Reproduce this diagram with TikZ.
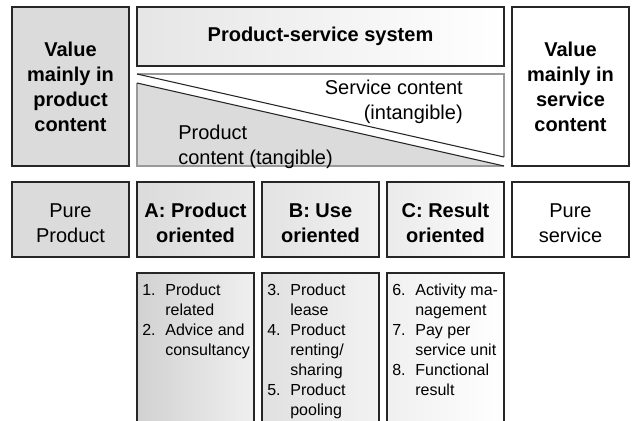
\documentclass[tikz,border=0pt]{standalone}
\usepackage{fontspec}
\setmainfont{Liberation Sans}
\usepackage{tikz}
\usetikzlibrary{positioning}
\colorlet{colorFrame}{black!85}
\colorlet{colorThin}{black!40}
\colorlet{colorProduct}{black!14}
\newcommand{\rowstrut}{\rule{0pt}{15.35pt}}
\tikzset{
  block/.style={draw=colorFrame, line width=0.9pt, inner sep=0pt, outer sep=0pt, minimum width=87.75pt, align=center},
  head/.style={font=\fontsize{15}{18.75}\selectfont\bfseries},
  plain/.style={font=\fontsize{15}{18.75}\selectfont},
  kind/.style={minimum height=56.25pt},
  list/.style={font=\fontsize{12}{15}\selectfont, inner sep=0pt, anchor=north west}
}

\begin{document}
\begin{tikzpicture}[x=0.75pt, y=-0.75pt, node distance=6pt]
\clip (0,0) rectangle (633,421);
% top row
\node[block, head, fill=colorProduct, minimum height=119.25pt] (v0) at (70.5,86.5) {Value\\mainly in\\product\\content};
\node[block, head, minimum width=275.25pt, minimum height=44.25pt, left color=black!10, right color=white] (pss) at (320.5,36.5) {Product-service system};
\node[block, head, fill=white, minimum height=119.25pt] (v1) at (570.5,86.5) {Value\\mainly in\\service\\content};
% split between product and service content
\coordinate (t0) at (137,74);
\coordinate (t1) at (504,74);
\coordinate (t2) at (504,157);
\coordinate (t3) at (137,83);
\coordinate (t4) at (504,166);
\coordinate (t5) at (137,166);
\fill[colorProduct] (t3) -- (t4) -- (t5) -- cycle;
\draw[colorThin, line width=0.8pt] (t0) -- (t1) -- (t2);
\draw[colorThin, line width=0.8pt] (t4) -- (t5) -- (t3);
\draw[colorFrame, line width=0.8pt] (t0) -- (t2);
\draw[colorFrame, line width=0.8pt] (t3) -- (t4);
\node[plain, align=right, anchor=north east, inner sep=0pt] (sc) at (463,79.5) {Service content\\(intangible)};
\node[plain, align=left, anchor=north west, inner sep=0pt] (pc) at (178,124.5) {Product\\content (tangible)};
% second row
\node[block, plain, kind, fill=colorProduct] (r0) at (70.5,219.5) {\rowstrut Pure\\Product};
\node[block, head, kind, right=of r0, left color=black!14, right color=black!9] (r1) {\rowstrut A: Product\\oriented};
\node[block, head, kind, right=of r1, left color=black!11, right color=black!6] (r2) {\rowstrut B: Use\\oriented};
\node[block, head, kind, right=of r2, left color=black!8, right color=black!2] (r3) {\rowstrut C: Result\\oriented};
\node[block, plain, kind, right=of r3, fill=white] (r4) {\rowstrut Pure\\service};
% third row
\node[block, below=12pt of r1, left color=black!18, right color=black!6, minimum height=150pt] (l1) {};
\node[block, below=12pt of r2, left color=black!12, right color=black!5, minimum height=150pt] (l2) {};
\node[block, below=12pt of r3, left color=black!6, right color=white, minimum height=150pt] (l3) {};
\node[list] (e1) at ([xshift=3.75pt, yshift=-6.5pt]l1.north west) {\begin{tabular}{@{}l@{\hspace{7.3pt}}l@{}}1.&Product\\&related\\2.&Advice and\\&consultancy\end{tabular}};
\node[list] (e2) at ([xshift=3.75pt, yshift=-6.5pt]l2.north west) {\begin{tabular}{@{}l@{\hspace{7.3pt}}l@{}}3.&Product\\&lease\\4.&Product\\&renting/\\&sharing\\5.&Product\\&pooling\end{tabular}};
\node[list] (e3) at ([xshift=3.75pt, yshift=-6.5pt]l3.north west) {\begin{tabular}{@{}l@{\hspace{7.3pt}}l@{}}6.&Activity ma-\\&nagement\\7.&Pay per\\&service unit\\8.&Functional\\&result\end{tabular}};
\end{tikzpicture}
\end{document}
